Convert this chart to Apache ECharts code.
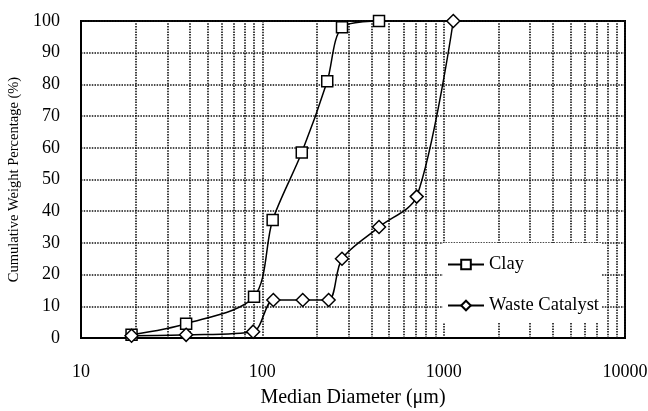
<!DOCTYPE html>
<html><head><meta charset="utf-8">
<script src="https://cdn.jsdelivr.net/npm/echarts@6/dist/echarts.min.js"></script>
<style>html,body{margin:0;padding:0;background:#fff}#c{width:648px;height:411px}</style>
</head><body><div id="c"></div>
<script>
const clayX = [19, 38, 90, 114, 165, 228, 275, 440];
const clayY = [1, 4.5, 13, 37.2, 58.5, 81, 98, 100];
const catX = [19, 38, 89, 115, 167, 232, 275, 440, 710, 1130];
const catY = [0.7, 1, 2, 12, 12, 12, 25, 35, 44.6, 100];
const minorGrid = [20,30,40,50,60,70,80,90,200,300,400,500,600,700,800,900,2000,3000,4000,5000,6000,7000,8000,9000];
const seriesNames = ['Clay', 'Waste Catalyst'];

const font = 'Liberation Serif';
const dotted = {color: '#111', type: [1.5, 1.2], width: 1.6};
const chart = echarts.init(document.getElementById('c'));
chart.setOption({
  animation: false,
  grid: {left: 81, right: 23, top: 21, bottom: 73, show: true, borderColor: '#000', borderWidth: 2, backgroundColor: 'transparent', containLabel: false, outerBoundsMode: 'none'},
  xAxis: {
    type: 'log', logBase: 10, min: 10, max: 10000,
    name: 'Median Diameter (\u03bcm)', nameLocation: 'middle', nameGap: 50,
    nameTextStyle: {fontFamily: font, fontSize: 20, color: '#000'},
    axisLine: {lineStyle: {color: '#000', width: 2}},
    axisTick: {show: false},
    axisLabel: {fontFamily: font, fontSize: 18, color: '#000', margin: 25, formatter: v => String(Math.round(v))},
    splitLine: {show: true, lineStyle: dotted}
  },
  yAxis: {
    type: 'value', min: 0, max: 100, interval: 10,
    name: 'Cumulative Weight Percentage (%)', nameLocation: 'middle', nameGap: 57,
    nameTextStyle: {fontFamily: font, fontSize: 14.5, color: '#000'},
    axisLine: {show: true, lineStyle: {color: '#000', width: 2}},
    axisTick: {show: false},
    axisLabel: {fontFamily: font, fontSize: 18, color: '#000', margin: 21},
    splitLine: {show: true, lineStyle: dotted}
  },
  legend: {
    orient: 'vertical', left: 443, top: 243, z: 20,
    backgroundColor: '#fff', padding: [12, 3, 8, 4], itemGap: 22,
    itemWidth: 36, itemHeight: 12,
    textStyle: {fontFamily: font, fontSize: 18.5, color: '#000'},
    data: seriesNames
  },
  series: [
    {
      name: 'grid-minor', type: 'line', data: [], silent: true, z: 1,
      markLine: {silent: true, symbol: 'none', label: {show: false}, lineStyle: dotted, animation: false,
        data: minorGrid.map(v => ({xAxis: v}))}
    },
    {
      name: seriesNames[0], type: 'line', smooth: 0.3, z: 5,
      data: clayX.map((x, i) => [x, clayY[i]]),
      symbol: 'rect', symbolSize: 11,
      lineStyle: {color: '#000', width: 1.5},
      itemStyle: {color: '#fff', borderColor: '#000', borderWidth: 1.5}
    },
    {
      name: seriesNames[1], type: 'line', smooth: 0.3, z: 5,
      data: catX.map((x, i) => [x, catY[i]]),
      symbol: 'diamond', symbolSize: 13,
      lineStyle: {color: '#000', width: 1.5},
      itemStyle: {color: '#fff', borderColor: '#000', borderWidth: 1.5}
    }
  ]
});
</script></body></html>
